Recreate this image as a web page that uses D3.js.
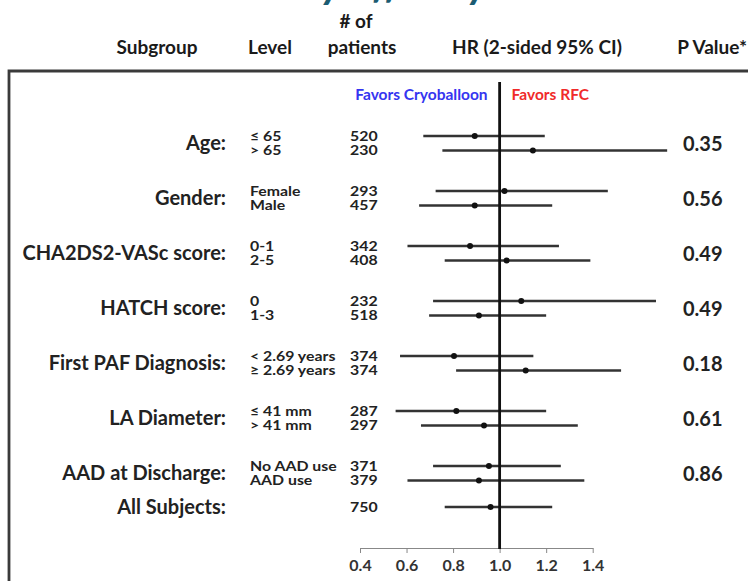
<!DOCTYPE html>
<html>
<head>
<meta charset="utf-8">
<script src="https://cdn.jsdelivr.net/npm/d3@7"></script>
<style>
  body { margin: 0; background: #fff; }
  svg { display: block; font-family: Lato, "Open Sans", sans-serif; font-weight: bold; }
</style>
</head>
<body>
<svg></svg>
<script>
// subgroup data
var groups = ['Age:', 'Gender:', 'CHA2DS2-VASc score:', 'HATCH score:', 'First PAF Diagnosis:', 'LA Diameter:', 'AAD at Discharge:'];
var levels = [['≤ 65', '> 65'], ['Female', 'Male'], ['0-1', '2-5'], ['0', '1-3'], ['< 2.69 years', '≥ 2.69 years'], ['≤ 41 mm', '> 41 mm'], ['No AAD use', 'AAD use']];
var counts = [[520, 230], [293, 457], [342, 408], [232, 518], [374, 374], [287, 297], [371, 379]];
var hr = [[0.893, 1.143], [1.021, 0.893], [0.873, 1.03], [1.093, 0.911], [0.804, 1.112], [0.814, 0.933], [0.954, 0.911]];
var lower = [[0.672, 0.754], [0.725, 0.654], [0.604, 0.764], [0.714, 0.697], [0.572, 0.813], [0.553, 0.662], [0.714, 0.604]];
var upper = [[1.194, 1.72], [1.465, 1.226], [1.255, 1.39], [1.672, 1.2], [1.145, 1.522], [1.2, 1.336], [1.263, 1.364]];
var pValues = ['0.35', '0.56', '0.49', '0.49', '0.18', '0.61', '0.86'];
var allLabel = 'All Subjects:';
var allN = 750, allHr = 0.961, allLo = 0.764, allHi = 1.226;
var ticks = [0.4, 0.6, 0.8, 1.0, 1.2, 1.4];

var width = 748, height = 581;
var svg = d3.select('svg').attr('width', width).attr('height', height);

var x = d3.scaleLinear().domain([0.4, 1.4]).range([360, 592.7]);
var gy = d3.scalePoint().domain(groups).range([143, 473]);
var allY = 507;

// flatten to rows
var rows = [];
groups.forEach(function(g, i) {
  [0, 1].forEach(function(j) {
    rows.push({ group: g, level: levels[i][j], n: counts[i][j], hr: hr[i][j], lo: lower[i][j], hi: upper[i][j], y: gy(g) + (j ? 7.5 : -7) });
  });
});
rows.push({ group: allLabel, level: '', n: allN, hr: allHr, lo: allLo, hi: allHi, y: allY });

// title, cut off at the very top
svg.append('text')
  .attr('x', 202).attr('y', -2)
  .attr('font-size', 42).attr('font-style', 'italic')
  .attr('fill', '#1b5c72')
  .text('Primary Efficacy End Point');

// headers
var head = svg.append('g').attr('font-size', 19).attr('fill', '#1a1a1a').attr('text-anchor', 'middle');
head.append('text').attr('x', 356).attr('y', 28).text('# of');
[['Subgroup', 157], ['Level', 270], ['patients', 362], ['HR (2-sided 95% CI)', 537]].forEach(function(h) {
  head.append('text').attr('x', h[1]).attr('y', 54).text(h[0]);
});
head.append('text').attr('x', 747).attr('y', 54).attr('text-anchor', 'end').text('P Value*');

// frame
svg.append('path')
  .attr('d', 'M9,' + (height + 5) + 'V71H' + (width + 5))
  .attr('fill', 'none').attr('stroke', '#3a3a3a').attr('stroke-width', 2.8);

// favors labels
svg.append('text').attr('x', x(1) - 12).attr('y', 100).attr('text-anchor', 'end')
  .attr('font-size', 15.5).attr('fill', '#3535f0').text('Favors Cryoballoon');
svg.append('text').attr('x', x(1) + 12).attr('y', 100)
  .attr('font-size', 15.5).attr('fill', '#f02a2a').text('Favors RFC');

// subgroup labels
svg.append('g').selectAll('text')
  .data(groups.concat([allLabel]))
  .enter().append('text')
  .attr('x', 226)
  .attr('y', function(d) { return (d === allLabel ? allY : gy(d)) + 7; })
  .attr('text-anchor', 'end').attr('font-size', 20).attr('fill', '#222')
  .text(function(d) { return d; });

// level + counts (slightly widened like the source)
svg.append('g').selectAll('text')
  .data(rows)
  .enter().append('text')
  .attr('transform', function(d) { return 'translate(250,' + (d.y + 4.5) + ') scale(1.22,1)'; })
  .attr('font-size', 13).attr('fill', '#222')
  .text(function(d) { return d.level; });
svg.append('g').selectAll('text')
  .data(rows)
  .enter().append('text')
  .attr('transform', function(d) { return 'translate(350,' + (d.y + 4.5) + ') scale(1.22,1)'; })
  .attr('font-size', 13).attr('fill', '#222')
  .text(function(d) { return d.n; });

// p values
svg.append('g').selectAll('text')
  .data(groups)
  .enter().append('text')
  .attr('x', 683).attr('y', function(d) { return gy(d) + 7.5; })
  .attr('font-size', 20).attr('fill', '#222')
  .text(function(d, i) { return pValues[i]; });

// axis
var axis = svg.append('g')
  .attr('transform', 'translate(0,548)')
  .call(d3.axisBottom(x).tickValues(ticks).tickFormat(d3.format('.1f')).tickSize(5).tickSizeOuter(0));
axis.select('.domain').attr('stroke', '#888');
axis.selectAll('.tick line').attr('stroke', '#888');
axis.selectAll('.tick text').attr('font-size', 16).attr('font-weight', 'bold')
  .attr('fill', '#333').attr('font-family', 'Lato, sans-serif').attr('dy', '0.95em');

// CI lines
svg.append('g').selectAll('line')
  .data(rows)
  .enter().append('line')
  .attr('x1', function(d) { return x(d.lo); })
  .attr('x2', function(d) { return x(d.hi); })
  .attr('y1', function(d) { return d.y; })
  .attr('y2', function(d) { return d.y; })
  .attr('stroke', '#333').attr('stroke-width', 2.4);

// reference line at HR = 1
svg.append('line')
  .attr('x1', x(1)).attr('x2', x(1)).attr('y1', 82).attr('y2', 549)
  .attr('stroke', '#111').attr('stroke-width', 2.8);

// point estimates
svg.append('g').selectAll('circle')
  .data(rows)
  .enter().append('circle')
  .attr('cx', function(d) { return x(d.hr); })
  .attr('cy', function(d) { return d.y; })
  .attr('r', 3)
  .attr('fill', '#111');
</script>
</body>
</html>
